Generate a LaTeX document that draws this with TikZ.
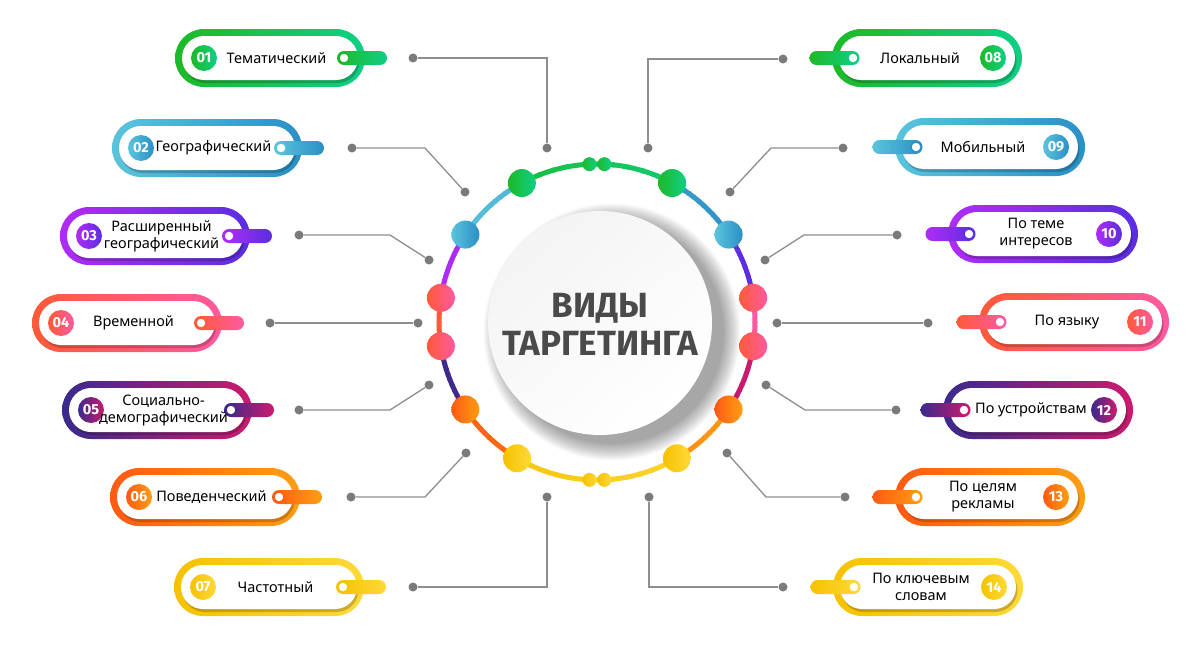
\documentclass[tikz,border=0pt]{standalone}
\usepackage{fontspec}
\setmainfont{Noto Sans}
\newfontfamily\heavyfont{Fira Sans}
\usetikzlibrary{shapes.misc,calc}
\definecolor{gA}{HTML}{1DB928}\definecolor{gB}{HTML}{0FCF85}
\definecolor{bA}{HTML}{5BC4DC}\definecolor{bB}{HTML}{2A8FC6}
\definecolor{vA}{HTML}{B02CF6}\definecolor{vB}{HTML}{5A2EE0}
\definecolor{cA}{HTML}{FF5A38}\definecolor{cB}{HTML}{FF5AA0}
\definecolor{iA}{HTML}{3A2A8C}\definecolor{iB}{HTML}{CC1A6E}
\definecolor{oA}{HTML}{FF5A14}\definecolor{oB}{HTML}{FF9E12}
\definecolor{yA}{HTML}{F5C200}\definecolor{yB}{HTML}{FFD93A}
\definecolor{conn}{HTML}{8E8E8E}\definecolor{condot}{HTML}{7A7A7A}
\definecolor{ttlc}{HTML}{4A4A4A}
\tikzset{
 pillout/.style={rounded rectangle, minimum width=190pt, minimum height=58pt, inner sep=0pt},
 pillin/.style={rounded rectangle, minimum width=176pt, minimum height=44pt, inner sep=0pt, fill=white},
 pillsh/.style={rounded rectangle, minimum width=176pt, minimum height=44pt, inner sep=0pt, fill=black, opacity=0.2},
 tabbar/.style={rounded rectangle, minimum width=50pt, minimum height=14pt, inner sep=0pt},
 tabhole/.style={circle, fill=white, minimum size=10pt, inner sep=0pt, line width=1.2pt},
 numdisc/.style={circle, minimum size=26pt, inner sep=0pt, text=white, font=\heavyfont\bfseries\fontsize{14.5}{14.5}\selectfont},
 lbl/.style={align=center, font=\fontsize{14.5}{17}\selectfont, text=black, inner sep=0pt},
 cdot/.style={circle, fill=condot, minimum size=9pt, inner sep=0pt},
 conline/.style={draw=conn, line width=1.3pt},
 rdot/.style={circle, minimum size=28pt, inner sep=0pt},
 sdot/.style={circle, minimum size=14pt, inner sep=0pt},
 ringline/.style={line width=5pt},
}
\newcommand\LPill[7]{%
  \node[pillout, left color=#4, right color=#5] (p#1) at (#2,#3) {};
  \node[pillsh] (s#1) at (#2+1.5,#3+3) {};
  \node[pillin] (w#1) at (#2,#3) {};
  \node[numdisc, left color=#4, right color=#5] (n#1) at (#2-66,#3) {#6};
  \node[tabbar, left color=#4, right color=#5] (t#1) at (#2+92,#3) {};
  \node[tabhole, draw=#4] (h#1) at (#2+74,#3) {};
  \node[lbl] (l#1) at (#2+6.5,#3) {#7};
}
\newcommand\RPill[7]{%
  \node[pillout, left color=#4, right color=#5] (p#1) at (#2,#3) {};
  \node[pillsh] (s#1) at (#2+1.5,#3+3) {};
  \node[pillin] (w#1) at (#2,#3) {};
  \node[numdisc, left color=#4, right color=#5] (n#1) at (#2+66,#3) {#6};
  \node[tabbar, left color=#4, right color=#5] (t#1) at (#2-92.5,#3) {};
  \node[tabhole, draw=#5] (h#1) at (#2-74,#3) {};
  \node[lbl] (l#1) at (#2-7,#3) {#7};
}
\newcommand\RSeg[4]{%
  \foreach \k in {0,...,11}{%
    \pgfmathsetmacro\aa{#1+(#2-#1)*\k/12}%
    \pgfmathsetmacro\bb{#1+(#2-#1)*(\k+1.2)/12}%
    \pgfmathtruncatemacro\pp{50-50*cos((\aa+\bb)/2)}%
    \draw[ringline, draw=#3!\pp!#4] (C) ++(\aa:158) arc[start angle=\aa, end angle=\bb, radius=158];
  }%
}
\newcommand\RDot[5]{%
  \node[#2, left color=#4, right color=#5] (#1) at ([shift={(#3:158)}]C) {};
}
\begin{document}
\begin{tikzpicture}[x=1pt,y=-1pt]
\fill[white] (0,0) rectangle (1200,645);
\useasboundingbox (0,0) rectangle (1200,645);
\coordinate (C) at (597,322);

% connectors left
\node[cdot] (a1) at (413,58) {}; \coordinate (k1) at (547,58); \node[cdot] (b1) at (547,148) {};
\draw[conline] (a1) -- (k1) -- (b1);
\node[cdot] (a2) at (352,148) {}; \coordinate (k2) at (425,148); \node[cdot] (b2) at (465,192) {};
\draw[conline] (a2) -- (k2) -- (b2);
\node[cdot] (a3) at (299,235) {}; \coordinate (k3) at (390,235); \node[cdot] (b3) at (429,260) {};
\draw[conline] (a3) -- (k3) -- (b3);
\node[cdot] (a4) at (270,323) {}; \node[cdot] (b4) at (418,323) {};
\draw[conline] (a4) -- (b4);
\node[cdot] (a5) at (299,410) {}; \coordinate (k5) at (390,410); \node[cdot] (b5) at (429,385) {};
\draw[conline] (a5) -- (k5) -- (b5);
\node[cdot] (a6) at (351,497) {}; \coordinate (k6) at (425,497); \node[cdot] (b6) at (466,453) {};
\draw[conline] (a6) -- (k6) -- (b6);
\node[cdot] (a7) at (413,587) {}; \coordinate (k7) at (547,587); \node[cdot] (b7) at (547,497) {};
\draw[conline] (a7) -- (k7) -- (b7);
% connectors right
\node[cdot] (a8) at (783,59) {}; \coordinate (k8) at (648,59); \node[cdot] (b8) at (648,148) {};
\draw[conline] (a8) -- (k8) -- (b8);
\node[cdot] (a9) at (843,148) {}; \coordinate (k9) at (771,148); \node[cdot] (b9) at (730,192) {};
\draw[conline] (a9) -- (k9) -- (b9);
\node[cdot] (a10) at (897,235) {}; \coordinate (k10) at (804,235); \node[cdot] (b10) at (765,260) {};
\draw[conline] (a10) -- (k10) -- (b10);
\node[cdot] (a11) at (928,323) {}; \node[cdot] (b11) at (777,323) {};
\draw[conline] (a11) -- (b11);
\node[cdot] (a12) at (896,410) {}; \coordinate (k12) at (805,410); \node[cdot] (b12) at (766,385) {};
\draw[conline] (a12) -- (k12) -- (b12);
\node[cdot] (a13) at (845,497) {}; \coordinate (k13) at (766,497); \node[cdot] (b13) at (727,453) {};
\draw[conline] (a13) -- (k13) -- (b13);
\node[cdot] (a14) at (783,587) {}; \coordinate (k14) at (649,587); \node[cdot] (b14) at (649,497) {};
\draw[conline] (a14) -- (k14) -- (b14);

% ring
\RSeg{-123}{-57}{gA}{gB}
\RSeg{-123}{-151}{bA}{bB}
\RSeg{-57}{-29}{bA}{bB}
\RSeg{-151}{-171.2}{vA}{vB}
\RSeg{-29}{-8.8}{vA}{vB}
\RSeg{-171.2}{-188.8}{cA}{cB}
\RSeg{-8.8}{8.8}{cA}{cB}
\RSeg{-188.8}{-213.6}{iA}{iB}
\RSeg{8.8}{33.6}{iA}{iB}
\RSeg{-213.6}{-239.6}{oA}{oB}
\RSeg{33.6}{59.6}{oA}{oB}
\RSeg{-239.6}{-300.4}{yA}{yB}

\RDot{rs1}{sdot}{-92.7}{gA}{gB}
\RDot{rs2}{sdot}{-87.3}{gA}{gB}
\RDot{rg1}{rdot}{-118.4}{gA}{gB}
\RDot{rg2}{rdot}{-61.6}{gA}{gB}
\RDot{rb1}{rdot}{-146.4}{bA}{bB}
\RDot{rb2}{rdot}{-33.6}{bA}{bB}
\RDot{rc1}{rdot}{-171.2}{cA}{cB}
\RDot{rc2}{rdot}{-188.8}{cA}{cB}
\RDot{rc3}{rdot}{-8.8}{cA}{cB}
\RDot{rc4}{rdot}{8.8}{cA}{cB}
\RDot{ro1}{rdot}{-213.6}{oA}{oB}
\RDot{ro2}{rdot}{33.6}{oA}{oB}
\RDot{ry1}{rdot}{-239.6}{yA}{yB}
\RDot{ry2}{rdot}{59.6}{yA}{yB}
\RDot{rs3}{sdot}{-267.3}{yA}{yB}
\RDot{rs4}{sdot}{-272.7}{yA}{yB}

% centre
\foreach \k in {0,...,15}{\fill[black, opacity=0.025] (612,332) circle[radius=112+\k*1.1];}
\node[circle, minimum size=224pt, inner sep=0pt, top color=gray!9, bottom color=white, shading angle=40] (core) at (600,323) {};
\node[font=\heavyfont\bfseries\fontsize{35}{38}\selectfont, text=ttlc, align=center, inner sep=0pt] (ttl) at (600,324) {ВИДЫ\\ТАРГЕТИНГА};

% pills
\LPill{1}{270}{58}{gA}{gB}{01}{Тематический}
\LPill{2}{207}{148}{bA}{bB}{02}{Географический}
\LPill{3}{155}{236}{vA}{vB}{03}{Расширенный\\географический}
\LPill{4}{127}{323}{cA}{cB}{04}{Временной}
\LPill{5}{157}{410}{iA}{iB}{05}{Социально-\\демографический}
\LPill{6}{205}{497}{oA}{oB}{06}{Поведенческий}
\LPill{7}{269}{587}{yA}{yB}{07}{Частотный}
\RPill{8}{927}{58}{gA}{gB}{08}{Локальный}
\RPill{9}{990}{147}{bA}{bB}{09}{Мобильный}
\RPill{10}{1043}{234}{vA}{vB}{10}{По теме\\интересов}
\RPill{11}{1074}{322}{cA}{cB}{11}{По языку}
\RPill{12}{1038}{410}{iA}{iB}{12}{По устройствам}
\RPill{13}{990}{497}{oA}{oB}{13}{По целям\\рекламы}
\RPill{14}{928}{587}{yA}{yB}{14}{По ключевым\\словам}
\end{tikzpicture}
\end{document}
